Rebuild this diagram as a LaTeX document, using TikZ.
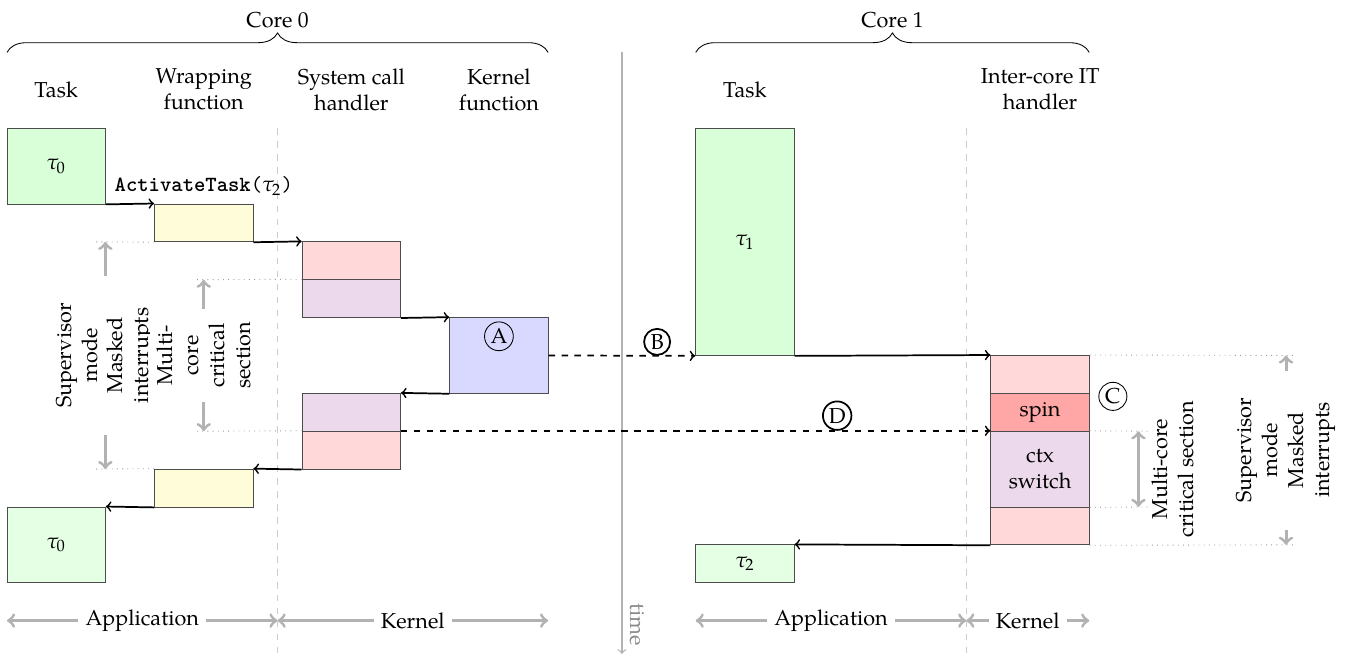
\documentclass[tikz,border=0pt]{standalone}
\usepackage{mathpazo}
\usepackage{fontspec}
\setmainfont{TeX Gyre Pagella}
\usepackage{tikz}
\usetikzlibrary{positioning,calc,decorations.pathreplacing}

\begin{document}
\begin{tikzpicture}[
  x=0.8cm, y=0.616cm,
  blk/.style={rectangle, draw=black!70, minimum width=1.6cm, minimum height=0.616cm, inner sep=0pt, align=center},
  tall/.style={blk, minimum height=1.232cm},
  hdr/.style={align=center},
  arr/.style={->, thick},
  darr/.style={->, thick, dashed},
  garr/.style={<->, black!30, line width=1.4pt},
  guide/.style={black!40, dotted},
  sep/.style={black!20, dashed, semithick},
  brc/.style={decorate, decoration={brace, amplitude=9pt}},
  circ/.style={circle, draw, solid, inner sep=1pt},
  vtext/.style={rotate=90, align=center, text=black}
]
\useasboundingbox (-0.142,3.384) rectangle (27.26,-13.90);

% Headers
\draw[brc] (0,2) -- (11,2) node[midway, above=8pt] (core0) {Core 0};
\draw[brc] (14,2) -- (22,2) node[midway, above=8pt] (core1) {Core 1};
\node[hdr] (hTask0) at (1,1.02) {Task};
\node[hdr] (hWrap) at (4,1.02) {Wrapping\\function};
\node[hdr] (hSch) at (7,1.02) {System call\\handler};
\node[hdr] (hKfun) at (10,1.02) {Kernel\\function};
\node[hdr] (hTask1) at (15,1.02) {Task};
\node[hdr] (hIt) at (21,1.02) {Inter-core IT\\handler};

% Separators and time
\draw[sep] (5.5,0) -- (5.5,-13.9);
\draw[sep] (19.5,0) -- (19.5,-13.9);
\coordinate (tTop) at (12.5,2);
\coordinate (tEnd) at (12.5,-13.88);
\draw[->, black!30, semithick] (tTop) -- (tEnd) node[at end, rotate=-90, anchor=south east, text=black!45] (tLbl) {time};

% Core 0
\node[tall, fill=green!15] (t0a) at (1,-1) {$\tau_0$};
\node[blk, fill=yellow!15] (wrap1) at (4,-2.5) {};
\node[blk, fill=red!15] (sch1a) at (7,-3.5) {};
\node[blk, fill=violet!15] (sch1b) at (7,-4.5) {};
\node[tall, fill=blue!15] (kfun) at (10,-6) {};
\node[circ, below=2pt of kfun.north] (lblA) {A};
\node[blk, fill=violet!15] (sch2a) at (7,-7.5) {};
\node[blk, fill=red!15] (sch2b) at (7,-8.5) {};
\node[blk, fill=yellow!15] (wrap2) at (4,-9.5) {};
\node[tall, fill=green!10] (t0b) at (1,-11) {$\tau_0$};
\node[above] (call) at (wrap1.north) {\texttt{\textbf{ActivateTask}(}$\tau_2$\texttt{)}};

\draw[arr] (t0a.south east) -- (wrap1.north west);
\draw[arr] (wrap1.south east) -- (sch1a.north west);
\draw[arr] (sch1b.south east) -- (kfun.north west);
\draw[arr] (kfun.south west) -- (sch2a.north east);
\draw[arr] (sch2b.south west) -- (wrap2.north east);
\draw[arr] (wrap2.south west) -- (t0b.north east);

% Core 1
\node[blk, fill=green!15, minimum height=3.696cm] (t1) at (15,-3) {$\tau_1$};
\node[blk, fill=red!15] (ith1) at (21,-6.5) {};
\node[blk, fill=red!35] (spin) at (21,-7.5) {spin};
\node[tall, fill=violet!15] (ctx) at (21,-9) {ctx\\switch};
\node[blk, fill=red!15] (ith2) at (21,-10.5) {};
\node[blk, fill=green!10] (t2) at (15,-11.5) {$\tau_2$};
\node[circ] (lblC) at (22.48,-7.08) {C};

\draw[arr] (t1.south east) -- (ith1.north west);
\draw[arr] (ith2.south west) -- (t2.north east);

% Inter-core
\draw[darr] (kfun.east) -- (t1.south west) node[pos=0.74, above, circ] (lblB) {B};
\draw[darr] (sch2b.north east) -- (ctx.north west) node[pos=0.74, above, circ] (lblD) {D};

% Modes, left
\coordinate (smA) at (2,-3);
\coordinate (smB) at (2,-9);
\coordinate (mcA) at (4,-4);
\coordinate (mcB) at (4,-8);
\draw[guide] (wrap1.south west) -- ($(smA)+(-0.2,0)$);
\draw[guide] (wrap2.north west) -- ($(smB)+(-0.2,0)$);
\draw[guide] (sch1b.north west) -- ($(mcA)+(-0.2,0)$);
\draw[guide] (sch2b.north west) -- ($(mcB)+(-0.2,0)$);
\draw[garr] (smA) -- (smB) node[midway, fill=white, vtext, text width=2.35cm] (smL) {Supervisor\\mode\\Masked\\interrupts};
\draw[garr] (mcA) -- (mcB) node[midway, fill=white, vtext, text width=1.27cm] (mcL) {Multi-\\core\\critical\\section};

% Modes, right
\coordinate (mcC) at (23,-8);
\coordinate (mcD) at (23,-10);
\coordinate (smC) at (26,-6);
\coordinate (smD) at (26,-11);
\draw[guide] (ctx.north east) -- ($(mcC)+(0.2,0)$);
\draw[guide] (ctx.south east) -- ($(mcD)+(0.2,0)$);
\draw[guide] (ith1.north east) -- ($(smC)+(0.2,0)$);
\draw[guide] (ith2.south east) -- ($(smD)+(0.2,0)$);
\draw[garr] (mcC) -- (mcD) node[midway, vtext, anchor=north, outer sep=3pt] (mcR) {Multi-core\\critical section};
\draw[garr] (smC) -- (smD) node[midway, fill=white, vtext, text width=2.35cm] (smR) {Supervisor\\mode\\Masked\\interrupts};

% Bottom
\coordinate (a0L) at (0,-13);
\coordinate (a0M) at (5.5,-13);
\coordinate (a0R) at (11,-13);
\coordinate (a1L) at (14,-13);
\coordinate (a1M) at (19.5,-13);
\coordinate (a1R) at (22,-13);
\draw[garr] (a0L) -- (a0M) node[midway, fill=white, text=black] (app0) {Application};
\draw[garr] (a0M) -- (a0R) node[midway, fill=white, text=black] (ker0) {Kernel};
\draw[garr] (a1L) -- (a1M) node[midway, fill=white, text=black] (app1) {Application};
\draw[garr] (a1M) -- (a1R) node[midway, fill=white, text=black] (ker1) {Kernel};

\end{tikzpicture}
\end{document}
